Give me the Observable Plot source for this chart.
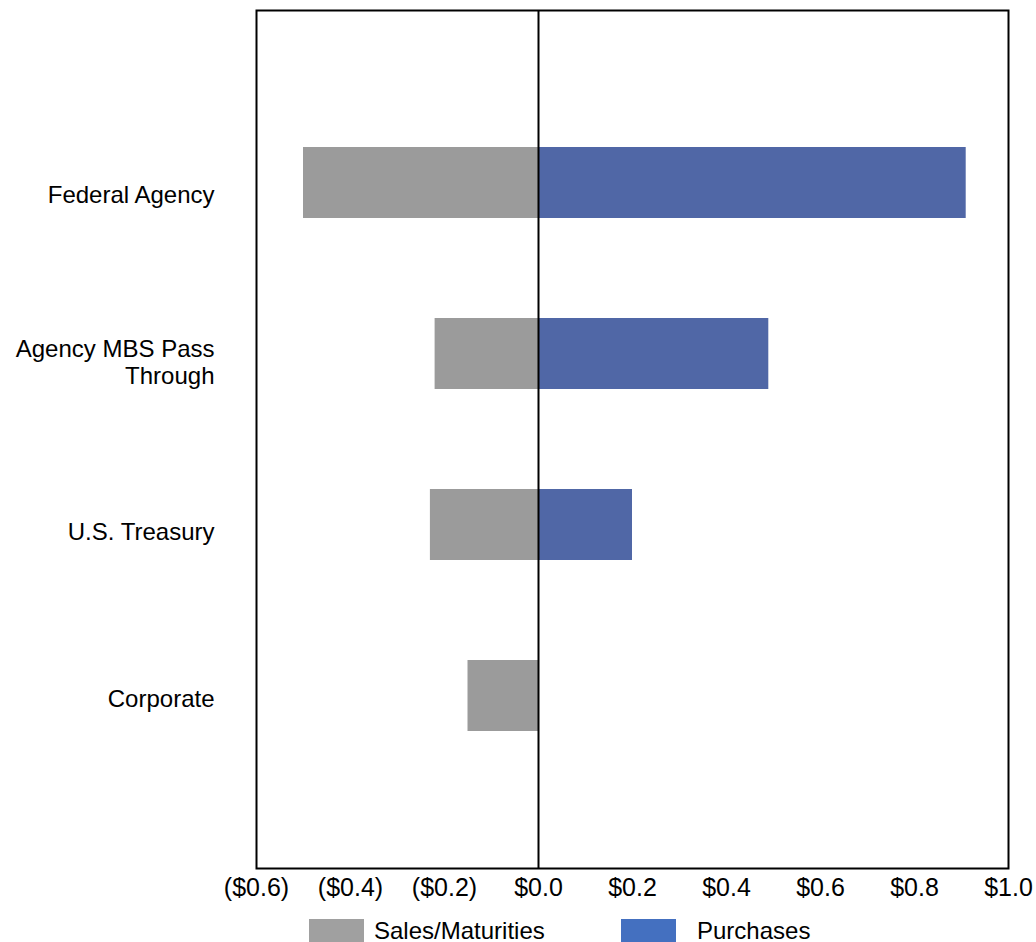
<!DOCTYPE html>
<html>
<head>
<meta charset="utf-8">
<script src="https://cdn.jsdelivr.net/npm/d3@7"></script>
<script src="https://cdn.jsdelivr.net/npm/@observablehq/plot@0.6"></script>
<style>
  body { margin: 0; background: #fff; font-family: Arial, "Liberation Sans", sans-serif; }
  #chart svg { display: block; }
  .legend { position: relative; height: 30px; font-size: 24px; color: #000; }
  .legend .item { position: absolute; top: 7px; display: flex; align-items: center; height: 23px; white-space: nowrap; }
  .legend .sw { width: 55px; height: 23px; }
</style>
</head>
<body>
<div id="chart"></div>
<div class="legend">
  <div class="item" style="left:309px"><span class="sw" style="background:#a0a0a0;margin-right:10px"></span>Sales/Maturities</div>
  <div class="item" style="left:621px"><span class="sw" style="background:#4470c0;margin-right:21px"></span>Purchases</div>
</div>
<script>
// Portfolio activity by security type, $ billions
const categories = ["Federal Agency", "Agency MBS Pass\nThrough", "U.S. Treasury", "Corporate"];
const salesMaturities = [-0.50, -0.22, -0.23, -0.15];
const purchases = [0.91, 0.49, 0.20, 0.00];
const xTicks = [-0.6, -0.4, -0.2, 0.0, 0.2, 0.4, 0.6, 0.8, 1.0];

const salesRows = categories.map((c, i) => ({category: c, value: salesMaturities[i]}));
const purchaseRows = categories.map((c, i) => ({category: c, value: purchases[i]})).filter(d => d.value !== 0);

// Negative amounts shown in accounting style: ($0.2)
const money = v => {
  const s = "$" + Math.abs(v).toFixed(1);
  return v < -1e-9 ? "(" + s + ")" : s;
};

// Category labels sit slightly below their bars; nudge each one individually
const labelNudge = [11, 8, 6, 2];
const categoryAxes = categories.map((c, i) =>
  Plot.axisY({ticks: [c], tickSize: 0, tickPadding: 42, fontSize: 24, lineHeight: 1.12, dy: labelNudge[i], label: null})
);

const chart = Plot.plot({
  width: 1036,
  height: 912,
  marginLeft: 256,
  marginRight: 28,
  marginTop: 10,
  marginBottom: 44,
  style: {fontFamily: 'Arial, "Liberation Sans", sans-serif', fontSize: "24px", color: "#000", background: "#fff"},
  x: {domain: [-0.6, 1.0], ticks: xTicks},
  y: {domain: categories, paddingInner: 0.587, paddingOuter: 0.79},
  marks: [
    Plot.barX(salesRows, {x: "value", y: "category", fill: "#9b9b9b"}),
    Plot.barX(purchaseRows, {x: "value", y: "category", fill: "#5067a6"}),
    Plot.ruleX([0], {stroke: "#000", strokeWidth: 2}),
    Plot.frame({stroke: "#000", strokeWidth: 2}),
    Plot.axisX({ticks: xTicks, tickFormat: money, tickSize: 0, tickPadding: 10, fontSize: 25, label: null}),
    ...categoryAxes
  ]
});
document.getElementById("chart").appendChild(chart);
</script>
</body>
</html>
